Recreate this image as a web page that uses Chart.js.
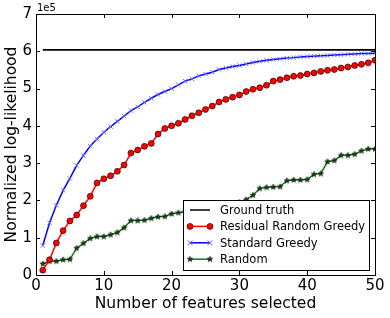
<!DOCTYPE html>
<html>
<head>
<meta charset="utf-8">
<script src="https://cdn.jsdelivr.net/npm/chart.js@4"></script>
<style>
  html, body { margin: 0; padding: 0; background: #fff; }
  #wrap { width: 390px; height: 318px; }
</style>
</head>
<body>
<div id="wrap"><canvas id="myChart" width="390" height="318"></canvas></div>
<script>
// values in units of 1e5
var features = [];
for (var i = 1; i <= 50; i++) features.push(i);

var groundTruth = 6.04;

var residualGreedy = [0.13, 0.41, 0.86, 1.19, 1.45, 1.61, 1.86, 2.11, 2.47, 2.58,
  2.66, 2.78, 2.95, 3.27, 3.35, 3.45, 3.53, 3.78, 3.93, 4.00,
  4.07, 4.17, 4.27, 4.35, 4.44, 4.53, 4.64, 4.71, 4.77, 4.83,
  4.92, 4.98, 5.02, 5.09, 5.20, 5.24, 5.29, 5.33, 5.35, 5.39,
  5.42, 5.46, 5.49, 5.51, 5.55, 5.58, 5.62, 5.65, 5.69, 5.76];

var standardGreedy = [0.79, 1.40, 1.87, 2.27, 2.59, 2.94, 3.21, 3.46, 3.65, 3.83,
  3.98, 4.12, 4.26, 4.41, 4.51, 4.63, 4.74, 4.84, 4.92, 5.00,
  5.10, 5.20, 5.26, 5.34, 5.39, 5.44, 5.51, 5.55, 5.59, 5.62,
  5.66, 5.70, 5.73, 5.76, 5.78, 5.80, 5.82, 5.83, 5.85, 5.86,
  5.87, 5.88, 5.89, 5.90, 5.91, 5.92, 5.93, 5.94, 5.94, 5.95];

var randomSel = [0.30, 0.37, 0.37, 0.41, 0.42, 0.72, 0.85, 0.98, 1.03, 1.03,
  1.08, 1.14, 1.27, 1.46, 1.46, 1.47, 1.52, 1.56, 1.57, 1.64,
  1.67, 1.69, 1.71, 1.73, 1.76, 1.79, 1.82, 1.86, 1.90, 1.95,
  2.02, 2.14, 2.32, 2.35, 2.36, 2.37, 2.53, 2.55, 2.55, 2.56,
  2.70, 2.72, 3.04, 3.07, 3.21, 3.21, 3.24, 3.33, 3.38, 3.38];

var xTicks = [0, 10, 20, 30, 40, 50];
var yTicks = [0, 1, 2, 3, 4, 5, 6, 7];

var FONT = "'DejaVu Sans', sans-serif";

function toPoints(vals) {
  return features.map(function(x, i) { return { x: x, y: vals[i] }; });
}

// small filled star marker like matplotlib '*'
function makeStar(r) {
  var c = document.createElement('canvas');
  var s = Math.ceil(r * 2 + 2);
  c.width = s; c.height = s;
  var g = c.getContext('2d');
  g.beginPath();
  for (var k = 0; k < 10; k++) {
    var rad = k % 2 === 0 ? r : r * 0.45;
    var a = -Math.PI / 2 + k * Math.PI / 5;
    var px = s / 2 + rad * Math.cos(a), py = s / 2 + rad * Math.sin(a);
    if (k === 0) g.moveTo(px, py); else g.lineTo(px, py);
  }
  g.closePath();
  g.fillStyle = '#1d3a1d';
  g.fill();
  g.lineWidth = 0.5;
  g.strokeStyle = '#000';
  g.stroke();
  return c;
}
var starImg = makeStar(3);

// box + inward ticks on all four sides, the 1e5 offset text and the legend
var framePlugin = {
  id: 'frame',
  afterDraw: function(chart) {
    var ctx = chart.ctx, a = chart.chartArea;
    var xs = chart.scales.x, ys = chart.scales.y;
    ctx.save();
    ctx.strokeStyle = '#000';
    ctx.lineWidth = 1;
    ctx.strokeRect(Math.round(a.left) + 0.5, Math.round(a.top) + 0.5,
      Math.round(a.right - a.left), Math.round(a.bottom - a.top));
    ctx.beginPath();
    xTicks.forEach(function(v) {
      var px = Math.round(xs.getPixelForValue(v)) + 0.5;
      ctx.moveTo(px, a.bottom); ctx.lineTo(px, a.bottom - 4);
      ctx.moveTo(px, a.top); ctx.lineTo(px, a.top + 4);
    });
    yTicks.forEach(function(v) {
      var py = Math.round(ys.getPixelForValue(v)) + 0.5;
      ctx.moveTo(a.left, py); ctx.lineTo(a.left + 4, py);
      ctx.moveTo(a.right, py); ctx.lineTo(a.right - 4, py);
    });
    ctx.stroke();

    ctx.fillStyle = '#000';
    ctx.font = '10px ' + FONT;
    ctx.textAlign = 'left';
    ctx.textBaseline = 'alphabetic';
    ctx.fillText('1e5', a.left + 1, a.top - 3);

    // legend
    var lx = 183.5, ly = 200.5, lw = 186, lh = 70;
    ctx.fillStyle = '#fff';
    ctx.fillRect(lx, ly, lw, lh);
    ctx.strokeRect(lx, ly, lw, lh);
    ctx.font = '11.5px ' + FONT;
    ctx.textBaseline = 'middle';
    chart.data.datasets.forEach(function(ds, i) {
      var y = 210 + i * 16.4;
      ctx.strokeStyle = ds.borderColor;
      ctx.lineWidth = 1.5;
      ctx.beginPath();
      ctx.moveTo(190, y); ctx.lineTo(210, y);
      ctx.stroke();
      [190, 210].forEach(function(mx) {
        if (ds.pointStyle === 'circle' && ds.pointRadius > 0) {
          ctx.beginPath();
          ctx.arc(mx, y, 3, 0, Math.PI * 2);
          ctx.fillStyle = ds.pointBackgroundColor;
          ctx.fill();
          ctx.lineWidth = 0.6;
          ctx.strokeStyle = '#000';
          ctx.stroke();
        } else if (ds.pointStyle === 'crossRot') {
          ctx.strokeStyle = ds.pointBorderColor;
          ctx.lineWidth = 1;
          ctx.beginPath();
          ctx.moveTo(mx - 2.5, y - 2.5); ctx.lineTo(mx + 2.5, y + 2.5);
          ctx.moveTo(mx - 2.5, y + 2.5); ctx.lineTo(mx + 2.5, y - 2.5);
          ctx.stroke();
        } else if (ds.pointStyle === starImg) {
          ctx.drawImage(starImg, mx - starImg.width / 2, y - starImg.height / 2);
        }
      });
      ctx.fillStyle = '#000';
      ctx.fillText(ds.label, 220, y + 1);
    });
    ctx.restore();
  }
};

var ctx = document.getElementById('myChart').getContext('2d');
var chart = new Chart(ctx, {
  type: 'line',
  data: {
    datasets: [{
      label: 'Ground truth',
      data: toPoints(features.map(function() { return groundTruth; })),
      borderColor: '#000',
      borderWidth: 1.8,
      pointRadius: 0,
      pointStyle: false
    }, {
      label: 'Residual Random Greedy',
      data: toPoints(residualGreedy),
      borderColor: '#ff0000',
      borderWidth: 1.5,
      pointStyle: 'circle',
      pointRadius: 3,
      pointBackgroundColor: '#ff0000',
      pointBorderColor: '#000',
      pointBorderWidth: 0.6
    }, {
      label: 'Standard Greedy',
      data: toPoints(standardGreedy),
      borderColor: '#0000ff',
      borderWidth: 1.5,
      pointStyle: 'crossRot',
      pointRadius: 3,
      pointBorderColor: '#6a6aff',
      pointBorderWidth: 1
    }, {
      label: 'Random',
      data: toPoints(randomSel),
      borderColor: '#008000',
      borderWidth: 1.5,
      pointStyle: starImg,
      pointRadius: 3
    }]
  },
  options: {
    responsive: false,
    animation: false,
    layout: { padding: { left: 3, right: 15, top: 14, bottom: 0 } },
    plugins: {
      legend: { display: false },
      tooltip: { enabled: false }
    },
    scales: {
      x: {
        type: 'linear',
        min: 0, max: 50,
        afterBuildTicks: function(s) { s.ticks = xTicks.map(function(v) { return { value: v }; }); },
        afterFit: function(s) { s.height = 43; },
        grid: { display: false, drawTicks: false },
        border: { display: false },
        ticks: { color: '#000', font: { family: FONT, size: 15 }, padding: 2, maxRotation: 0 },
        title: { display: true, text: 'Number of features selected', color: '#000',
          font: { family: FONT, size: 15.5 }, padding: { top: 0, bottom: 5 } }
      },
      y: {
        min: 0, max: 7,
        afterBuildTicks: function(s) { s.ticks = yTicks.map(function(v) { return { value: v }; }); },
        afterFit: function(s) { s.width = 33; },
        grid: { display: false, drawTicks: false },
        border: { display: false },
        ticks: { color: '#000', font: { family: FONT, size: 15 }, padding: 4 },
        title: { display: true, text: 'Normalized log-likelihood', color: '#000',
          font: { family: FONT, size: 15.5 }, padding: { top: 0, bottom: 0 } }
      }
    }
  },
  plugins: [framePlugin]
});
</script>
</body>
</html>
